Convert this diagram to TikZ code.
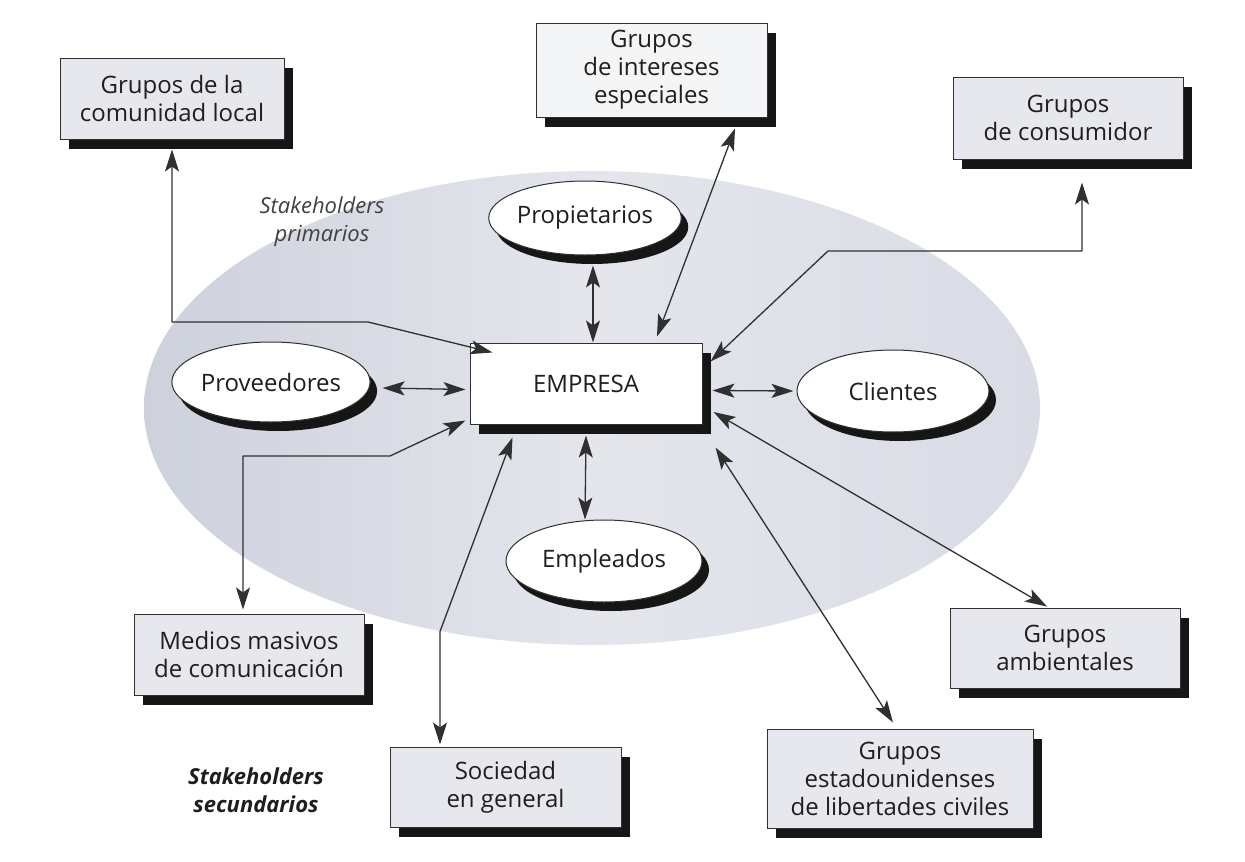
\documentclass[tikz,border=0pt]{standalone}
\usepackage{fontspec}
\setmainfont{Open Sans}
\usetikzlibrary{shapes.geometric,shadows,arrows.meta,calc}

\definecolor{ink}{HTML}{1E1E1E}
\definecolor{wire}{HTML}{303030}
\definecolor{hazeleft}{HTML}{CDD1DC}
\definecolor{hazemid}{HTML}{E4E6EC}
\definecolor{hazeright}{HTML}{D9DCE5}
\definecolor{boxfill}{HTML}{E6E8ED}
\definecolor{shade}{HTML}{161616}

\begin{document}
\begin{tikzpicture}[x=1pt, y=-1pt,
  font=\fontsize{24}{28}\selectfont, text=ink,
  group/.style={rectangle, draw=wire, line width=1pt, fill=boxfill,
    align=center, inner sep=0pt,
    drop shadow={shadow xshift=9pt, shadow yshift=-10pt, fill=shade, opacity=1}},
  core/.style={group, fill=white},
  party/.style={ellipse, draw=wire, line width=1pt, fill=white, inner sep=0pt,
    drop shadow={shadow xshift=7pt, shadow yshift=-9pt, fill=shade, opacity=1}},
  both/.style={draw=wire, line width=1.3pt, line join=round,
    {Stealth[length=22pt, width=14pt, inset=5pt]}-{Stealth[length=22pt, width=14pt, inset=5pt]}},
  note/.style={font=\fontsize{22}{28}\selectfont\itshape, align=center}]

% page and stakeholder zone
\fill[white] (0,0) rectangle (1245,862);
\useasboundingbox (0,0) rectangle (1245,862);
\shade[shading=axis, left color=hazeleft, right color=hazeright, middle color=hazemid]
  (592,408) ellipse [x radius=448pt, y radius=237pt];

% outer (secondary) groups
\node[group, minimum width=224pt, minimum height=81pt] (com) at (172,98.5) {Grupos de la\\comunidad local};
\node[group, minimum width=231pt, minimum height=94pt, fill=boxfill!45!white] (int) at (651.5,70) {Grupos\\de intereses\\especiales};
\node[group, minimum width=230pt, minimum height=82pt] (cons) at (1068,118) {Grupos\\de consumidor};
\node[group, minimum width=230pt, minimum height=81pt] (med) at (249,654.5) {Medios masivos\\de comunicación};
\node[group, minimum width=231pt, minimum height=80pt] (soc) at (505.5,787) {Sociedad\\en general};
\node[group, minimum width=230pt, minimum height=80pt] (amb) at (1065,648) {Grupos\\ambientales};
\node[group, minimum width=266pt, minimum height=99pt] (est) at (900,778.5) {Grupos\\estadounidenses\\de libertades civiles};

% the company
\node[core, minimum width=232pt, minimum height=81pt] (emp) at (586,383.5) {EMPRESA};

% primary stakeholders
\node[party, minimum width=192pt, minimum height=74pt] (prop) at (585,218) {Propietarios};
\node[party, minimum width=193pt, minimum height=80pt] (prov) at (271,382) {Proveedores};
\node[party, minimum width=192pt, minimum height=82pt] (cli) at (893,391) {Clientes};
\node[party, minimum width=196pt, minimum height=82pt] (empl) at (604,561) {Empleados};

% zone labels
\node[note, text=ink!85] (prim) at (322,222) {Stakeholders\\primarios};
\node[note, font=\fontsize{22}{28}\selectfont\bfseries\itshape] (sec) at (256,790) {Stakeholders\\secundarios};

% links with the primary stakeholders
\draw[both] ([xshift=8pt,yshift=-10pt]prop.south) -- ([xshift=7pt]emp.north);
\draw[both] ([xshift=12pt,yshift=-6pt]prov.east) -- ([xshift=-4pt,yshift=-6pt]emp.west);
\draw[both] ([xshift=10pt,yshift=-7pt]emp.east) -- ([xshift=-3pt]cli.west);
\draw[both] ([yshift=-11pt]emp.south) -- ([xshift=-19pt]empl.north);

% links with the secondary groups
\draw[both] ([yshift=-10pt]com.south) |- (368,322) -- ([xshift=23pt,yshift=-10pt]emp.north west);
\draw[both] ([xshift=83.5pt,yshift=-11pt]int.south) -- ([xshift=71pt,yshift=6pt]emp.north);
\draw[both] ([xshift=14pt,yshift=-23pt]cons.south) |- (828,251) -- ([xshift=8pt,yshift=-19pt]emp.north east);
\draw[both] ([xshift=-6pt,yshift=4pt]med.north) |- (390,456) -- ([xshift=-4pt,yshift=4pt]emp.south west);
\draw[both] ([xshift=-65.5pt,yshift=2pt]soc.north) -- ++(0,-113) -- ([xshift=43pt,yshift=-13pt]emp.south west);
\draw[both] ([xshift=-7pt,yshift=6pt]est.north) -- ([xshift=13pt,yshift=-23pt]emp.south east);
\draw[both] ([xshift=-18pt,yshift=1pt]amb.north) -- ([xshift=11pt,yshift=-28.5pt]emp.east);
\end{tikzpicture}
\end{document}
